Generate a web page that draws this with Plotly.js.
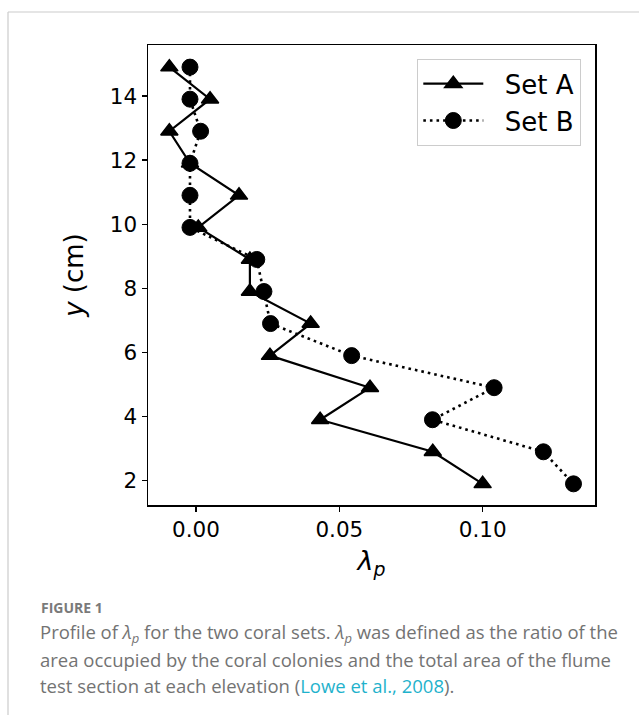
<!DOCTYPE html>
<html>
<head>
<meta charset="utf-8">
<script src="https://cdn.plot.ly/plotly-3.0.1.min.js"></script>
<style>
html,body{margin:0;padding:0;background:#fff;}
#chart{width:639px;height:715px;}
</style>
</head>
<body>
<div id="chart"></div>
<script>
// Elevation (cm)
const elevation = [14.9, 13.9, 12.9, 11.9, 10.9, 9.9, 8.9, 7.9, 6.9, 5.9, 4.9, 3.9, 2.9, 1.9];
// lambda_p values
const setA = [-0.0093, 0.0049, -0.0093, -0.0021, 0.0150, 0.0008, 0.0188, 0.0188, 0.0400, 0.0258, 0.0607, 0.0433, 0.0826, 0.1000];
const setB = [-0.0021, -0.0021, 0.0016, -0.0021, -0.0021, -0.0021, 0.0212, 0.0237, 0.0260, 0.0543, 0.1040, 0.0825, 0.1212, 0.1317];
const xTicks = [0.00, 0.05, 0.10];
const xTickLabels = ['0.00', '0.05', '0.10'];
const yTicks = [2, 4, 6, 8, 10, 12, 14];
const seriesNames = ['Set A', 'Set B'];

const L = 148, R = 595, T = 45, B = 505, W = 639, H = 715;
const px = x => (x - L) / (R - L);
const py = y => (B - y) / (B - T);
const pad = '\u00a0\u00a0';

const traces = [
  {
    x: setA, y: elevation, name: pad + seriesNames[0], type: 'scatter', mode: 'lines+markers',
    line: {color: '#000', width: 2.2},
    marker: {symbol: 'triangle-up', size: 15, color: '#000', line: {color: '#000', width: 1.5}}
  },
  {
    x: setB, y: elevation, name: pad + seriesNames[1], type: 'scatter', mode: 'lines+markers',
    line: {color: '#000', width: 2.6, dash: '2.6px,4px'},
    marker: {symbol: 'circle', size: 16, color: '#000', line: {color: '#000', width: 1}}
  }
];

const font = 'DejaVu Sans, sans-serif';
const capFont = 'Open Sans, Lato, sans-serif';
const capColor = '#737373';

const layout = {
  width: W, height: H,
  margin: {l: L, r: W - R, t: T, b: H - B, pad: 0},
  paper_bgcolor: '#fff', plot_bgcolor: '#fff',
  showlegend: true,
  legend: {
    x: px(581), y: py(59), xanchor: 'right', yanchor: 'top',
    bgcolor: 'rgba(255,255,255,0.8)', bordercolor: '#cccccc', borderwidth: 1.3,
    font: {family: font, size: 26, color: '#000'},
    itemwidth: 60, tracegroupgap: 4
  },
  xaxis: {
    range: [-0.01675, 0.1392], tickvals: xTicks, ticktext: xTickLabels,
    ticks: 'outside', ticklen: 5, tickwidth: 1.2, tickcolor: '#000',
    showline: true, linecolor: '#000', linewidth: 1.5, mirror: true,
    showgrid: false, zeroline: false,
    tickfont: {family: font, size: 21.5, color: '#000'},
    title: {text: '<i>λ</i><sub><i>p</i></sub>', font: {family: font, size: 27, color: '#000'}, standoff: 10}
  },
  yaxis: {
    range: [1.24, 15.59], tickvals: yTicks,
    ticks: 'outside', ticklen: 5, tickwidth: 1.2, tickcolor: '#000',
    showline: true, linecolor: '#000', linewidth: 1.5, mirror: true,
    showgrid: false, zeroline: false,
    tickfont: {family: font, size: 21.5, color: '#000'},
    title: {text: '<i>y</i> (cm)', font: {family: font, size: 26, color: '#000'}, standoff: 18}
  },
  shapes: [
    {type: 'line', xref: 'paper', yref: 'paper', x0: px(8), x1: px(639), y0: py(12), y1: py(12), line: {color: '#cccccc', width: 1.2}},
    {type: 'line', xref: 'paper', yref: 'paper', x0: px(8), x1: px(8), y0: py(12), y1: py(715), line: {color: '#cccccc', width: 1.2}}
  ],
  annotations: [
    {xref: 'paper', yref: 'paper', x: px(39), y: py(607), xanchor: 'left', yanchor: 'middle', showarrow: false,
     text: '<b>FIGURE 1</b>', font: {family: capFont, size: 14, color: '#7a7a7a'}},
    {xref: 'paper', yref: 'paper', x: px(38), y: py(633), xanchor: 'left', yanchor: 'middle', showarrow: false,
     text: 'Profile of <i>λ</i><sub><i>p</i></sub> for the two coral sets. <i>λ</i><sub><i>p</i></sub> was defined as the ratio of the',
     font: {family: capFont, size: 18.5, color: capColor}},
    {xref: 'paper', yref: 'paper', x: px(38), y: py(659), xanchor: 'left', yanchor: 'middle', showarrow: false,
     text: 'area occupied by the coral colonies and the total area of the flume',
     font: {family: capFont, size: 18.5, color: capColor}},
    {xref: 'paper', yref: 'paper', x: px(38), y: py(685), xanchor: 'left', yanchor: 'middle', showarrow: false,
     text: 'test section at each elevation (<span style="color:#1fb2cc">Lowe et al., 2008</span>).',
     font: {family: capFont, size: 18.5, color: capColor}}
  ]
};

Plotly.newPlot('chart', traces, layout, {staticPlot: true, displayModeBar: false});
</script>
</body>
</html>
